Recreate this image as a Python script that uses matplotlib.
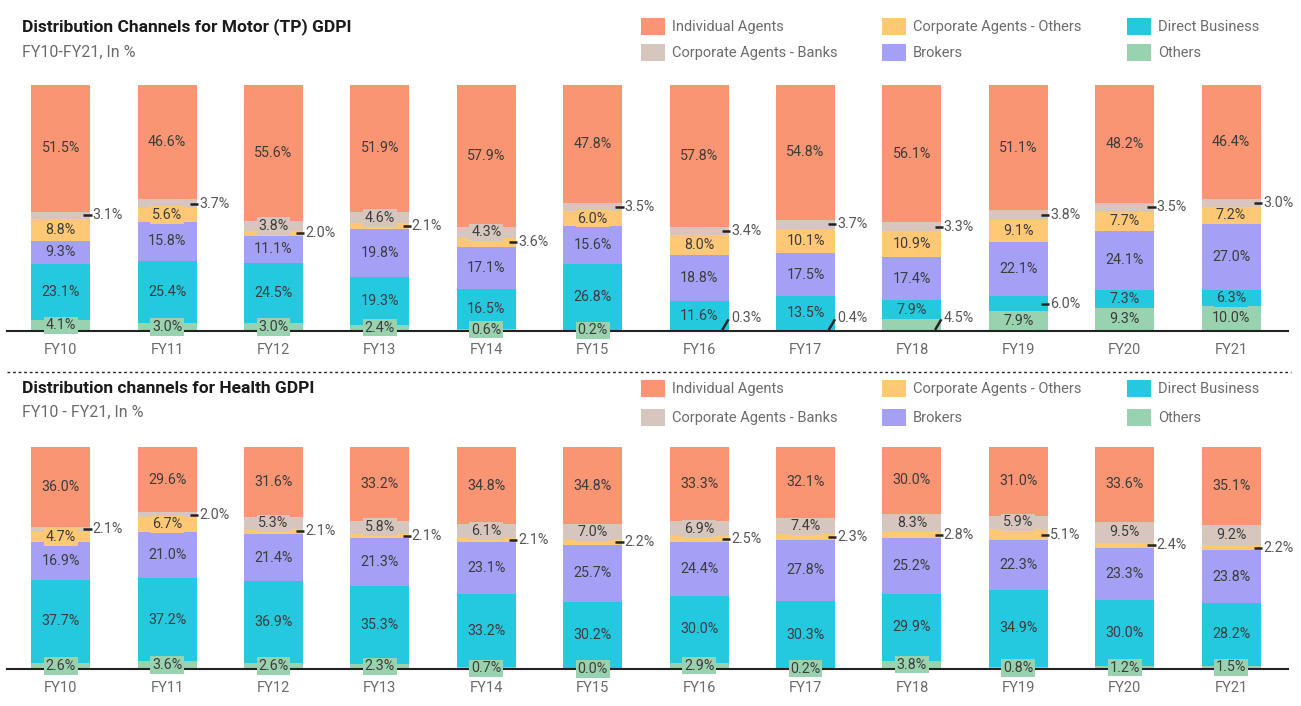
import matplotlib
matplotlib.use("Agg")
import matplotlib.pyplot as plt
from matplotlib.patches import Rectangle
import numpy as np

plt.rcParams["font.family"] = ["Roboto", "DejaVu Sans"]

W_PX, H_PX = 1301, 706

years = ["FY10", "FY11", "FY12", "FY13", "FY14", "FY15",
         "FY16", "FY17", "FY18", "FY19", "FY20", "FY21"]

# stack order, bottom to top
series = ["Others", "Direct Business", "Brokers",
          "Corporate Agents - Others", "Corporate Agents - Banks", "Individual Agents"]

motor_others = [4.1, 3.0, 3.0, 2.4, 0.6, 0.2, 0.3, 0.4, 4.5, 7.9, 9.3, 10.0]
motor_direct = [23.1, 25.4, 24.5, 19.3, 16.5, 26.8, 11.6, 13.5, 7.9, 6.0, 7.3, 6.3]
motor_brokers = [9.3, 15.8, 11.1, 19.8, 17.1, 15.6, 18.8, 17.5, 17.4, 22.1, 24.1, 27.0]
motor_corp_others = [8.8, 5.6, 2.0, 2.1, 3.6, 6.0, 8.0, 10.1, 10.9, 9.1, 7.7, 7.2]
motor_banks = [3.1, 3.7, 3.8, 4.6, 4.3, 3.5, 3.4, 3.7, 3.3, 3.8, 3.5, 3.0]
motor_individual = [51.5, 46.6, 55.6, 51.9, 57.9, 47.8, 57.8, 54.8, 56.1, 51.1, 48.2, 46.4]

health_others = [2.6, 3.6, 2.6, 2.3, 0.7, 0.0, 2.9, 0.2, 3.8, 0.8, 1.2, 1.5]
health_direct = [37.7, 37.2, 36.9, 35.3, 33.2, 30.2, 30.0, 30.3, 29.9, 34.9, 30.0, 28.2]
health_brokers = [16.9, 21.0, 21.4, 21.3, 23.1, 25.7, 24.4, 27.8, 25.2, 22.3, 23.3, 23.8]
health_corp_others = [4.7, 6.7, 2.1, 2.1, 2.1, 2.2, 2.5, 2.3, 2.8, 5.1, 2.4, 2.2]
health_banks = [2.1, 2.0, 5.3, 5.8, 6.1, 7.0, 6.9, 7.4, 8.3, 5.9, 9.5, 9.2]
health_individual = [36.0, 29.6, 31.6, 33.2, 34.8, 34.8, 33.3, 32.1, 30.0, 31.0, 33.6, 35.1]

colors = {
    "Individual Agents": "#F99572",
    "Corporate Agents - Banks": "#D6C6BD",
    "Corporate Agents - Others": "#FFC875",
    "Brokers": "#A3A0F5",
    "Direct Business": "#24C9E0",
    "Others": "#99D2AF",
}

# callouts drawn outside the bar in the motor chart
motor_diag_others = ["FY16", "FY17", "FY18"]
motor_dash_direct = ["FY19"]

TXT_IN = "#3c3c3c"
TXT_OUT = "#555555"
GREY = "#6b6b6b"
LBL_PT = 10.3

fig = plt.figure(figsize=(W_PX / 100, H_PX / 100), dpi=100)


def fx(px):
    return px / W_PX


def fy(py):
    return 1 - py / H_PX


x = np.arange(len(years))
BAR_W = 0.555
X0, STEP = 60.7, 106.4
AX_L, AX_R = 7, 1288


def make_axes(top_px, base_px):
    ax = fig.add_axes([fx(AX_L), fy(base_px), fx(AX_R - AX_L),
                       (base_px - top_px) / H_PX])
    ax.set_xlim((AX_L - X0) / STEP, (AX_R - X0) / STEP)
    ax.set_ylim(0, 100)
    for s in ax.spines.values():
        s.set_visible(False)
    ax.set_yticks([])
    ax.set_xticks(x, years)
    ax.tick_params(axis="x", length=0, pad=9, labelsize=10.5, labelcolor=GREY)
    ax.axhline(0, color="#222222", lw=1.5, zorder=3, clip_on=False)
    return ax


def dash_label(ax, xi, yc, v):
    edge = xi + BAR_W / 2
    ax.plot([edge - 0.065, edge + 0.012], [yc, yc], color="#222222", lw=1.8,
            solid_capstyle="butt", zorder=5, clip_on=False)
    ax.text(edge + 0.022, yc, f"{v:.1f}%", ha="left", va="center",
            fontsize=LBL_PT, color=TXT_OUT, zorder=6, clip_on=False)


def diag_label(ax, xi, v):
    edge = xi + BAR_W / 2
    ax.plot([edge - 0.06, edge + 0.0], [0.2, 4.6], color="#222222", lw=1.8,
            solid_capstyle="butt", zorder=5, clip_on=False)
    ax.text(edge + 0.02, 5.0, f"{v:.1f}%", ha="left", va="center",
            fontsize=LBL_PT, color=TXT_OUT, zorder=6, clip_on=False)


def draw_panel(ax, data, diag_others=(), dash_direct=()):
    bottoms = np.zeros(len(years))
    for name in series:
        ax.bar(x, data[name], BAR_W, bottom=bottoms, color=colors[name],
               linewidth=0, zorder=2)
        bottoms = bottoms + np.array(data[name])

    for i, yr in enumerate(years):
        base = 0.0
        banks = data["Corporate Agents - Banks"][i]
        corp = data["Corporate Agents - Others"][i]
        for name in series:
            v = data[name][i]
            yc = base + v / 2
            base += v
            outside = False
            if name == "Others" and yr in diag_others:
                diag_label(ax, x[i], v)
                continue
            if name == "Direct Business" and yr in dash_direct:
                outside = True
            if name == "Corporate Agents - Banks" and banks < corp:
                outside = True
            if name == "Corporate Agents - Others" and corp <= banks:
                outside = True
            if outside:
                dash_label(ax, x[i], yc, v)
            else:
                ax.text(x[i], yc, f"{v:.1f}%", ha="center", va="center",
                        fontsize=LBL_PT, color=TXT_IN, zorder=4, clip_on=False,
                        bbox=dict(boxstyle="square,pad=0.12",
                                  fc=colors[name], ec="none"))


def legend_block(row1_px, row2_px):
    cols = [(641, [("Individual Agents", row1_px), ("Corporate Agents - Banks", row2_px)]),
            (882, [("Corporate Agents - Others", row1_px), ("Brokers", row2_px)]),
            (1127, [("Direct Business", row1_px), ("Others", row2_px)])]
    for sx, entries in cols:
        for name, ry in entries:
            fig.add_artist(Rectangle((fx(sx), fy(ry + 8)), 24 / W_PX, 17 / H_PX,
                                     transform=fig.transFigure,
                                     fc=colors[name], ec="none"))
            fig.text(fx(sx + 31), fy(ry), name, ha="left", va="center",
                     fontsize=10.5, color=GREY)


# ---- Motor (TP) ----
ax1 = make_axes(85, 330.5)
draw_panel(ax1, {
    "Others": motor_others, "Direct Business": motor_direct,
    "Brokers": motor_brokers, "Corporate Agents - Others": motor_corp_others,
    "Corporate Agents - Banks": motor_banks, "Individual Agents": motor_individual,
}, motor_diag_others, motor_dash_direct)
fig.text(fx(22), fy(27), "Distribution Channels for Motor (TP) GDPI",
         ha="left", va="center", fontsize=12.5, fontweight="bold", color="#1a1a1a")
fig.text(fx(22), fy(52), "FY10-FY21, In %", ha="left", va="center",
         fontsize=11.5, color=GREY)
legend_block(27, 53)

# separator
fig.add_artist(plt.Line2D([fx(7), fx(1291)], [fy(372), fy(372)],
                          transform=fig.transFigure, color="#222222",
                          lw=1, linestyle=(0, (2, 2))))

# ---- Health ----
ax2 = make_axes(447, 669)
draw_panel(ax2, {
    "Others": health_others, "Direct Business": health_direct,
    "Brokers": health_brokers, "Corporate Agents - Others": health_corp_others,
    "Corporate Agents - Banks": health_banks, "Individual Agents": health_individual,
})
fig.text(fx(22), fy(388), "Distribution channels for Health GDPI",
         ha="left", va="center", fontsize=12.5, fontweight="bold", color="#1a1a1a")
fig.text(fx(22), fy(412), "FY10 - FY21, In %", ha="left", va="center",
         fontsize=11.5, color=GREY)
legend_block(389, 418)

fig.savefig("out.png", dpi=100, facecolor="white")
